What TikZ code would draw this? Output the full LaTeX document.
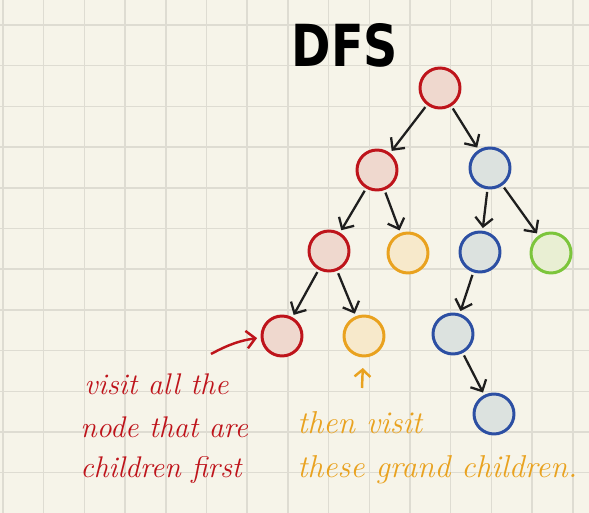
\documentclass[tikz,border=0pt]{standalone}
\usepackage{fontspec}
\usetikzlibrary{arrows.meta}
\newfontfamily\titlefont{DejaVu Sans}
\definecolor{paper}{HTML}{F6F4E9}
\definecolor{gridc}{HTML}{DEDCD2}
\definecolor{inkc}{HTML}{1E1E1E}
\definecolor{redline}{HTML}{BE141B}
\definecolor{redfill}{HTML}{EFD8CE}
\definecolor{orangeline}{HTML}{E9A21F}
\definecolor{orangefill}{HTML}{F7E9CB}
\definecolor{blueline}{HTML}{2C4FA3}
\definecolor{bluefill}{HTML}{DCE2DF}
\definecolor{greenline}{HTML}{7CC53B}
\definecolor{greenfill}{HTML}{E9EFD3}

\begin{document}
\begin{tikzpicture}[x=0.02cm, y=-0.02cm,
  vertex/.style={circle, minimum size=0.8cm, line width=1.7pt, inner sep=0pt},
  redvertex/.style={vertex, draw=redline, fill=redfill},
  orangevertex/.style={vertex, draw=orangeline, fill=orangefill},
  bluevertex/.style={vertex, draw=blueline, fill=bluefill},
  greenvertex/.style={vertex, draw=greenline, fill=greenfill},
  edge/.style={draw=inkc, -{Straight Barb[length=5pt,width=10pt]}, line width=1.3pt, shorten <=1.5pt, shorten >=1.5pt},
  note/.style={anchor=base west, inner sep=0pt, font=\fontsize{18}{24}\selectfont\itshape},
  rednote/.style={note, text=redline, font=\fontsize{17}{24}\selectfont\itshape},
  orangenote/.style={note, text=orangeline}]
% paper
\fill[paper] (0,0) rectangle (589,513);
\useasboundingbox (0,0) rectangle (589,513);
\foreach \i in {0,...,14}
  \draw[gridc, line width=0.8pt] ({3+40.7*\i},0) -- ({3+40.7*\i},513);
\foreach \i in {0,...,11}
  \draw[gridc, line width=0.8pt] (0,{25+40.7*\i}) -- (589,{25+40.7*\i});
% title
\node (title) at (345,45) {\scalebox{0.82}[1]{\titlefont\fontsize{33}{36}\selectfont\bfseries DFS}};
% tree
\node[redvertex] (root) at (440,88) {};
\node[redvertex] (l) at (377,170) {};
\node[bluevertex] (r) at (490,168) {};
\node[redvertex] (ll) at (329,251) {};
\node[orangevertex] (lr) at (408,253) {};
\node[bluevertex] (rl) at (480,252) {};
\node[greenvertex] (rr) at (551,253) {};
\node[redvertex] (lll) at (282,336) {};
\node[orangevertex] (llr) at (364,336) {};
\node[bluevertex] (rll) at (453,334) {};
\node[bluevertex] (rllr) at (494,414) {};
\draw[edge] (root) -- (l);
\draw[edge] (root) -- (r);
\draw[edge] (l) -- (ll);
\draw[edge] (l) -- (lr);
\draw[edge] (r) -- (rl);
\draw[edge] (r) -- (rr);
\draw[edge] (ll) -- (lll);
\draw[edge] (ll) -- (llr);
\draw[edge] (rl) -- (rll);
\draw[edge] (rll) -- (rllr);
% notes
\coordinate (redtail) at (211,354);
\draw[redline, line width=1.4pt, -{Straight Barb[length=5pt,width=10pt]}, shorten >=2pt]
  (redtail) to[bend left=10] (lll);
\coordinate (orangetail) at (362,388);
\draw[orangeline, line width=1.4pt, -{Straight Barb[length=4pt,width=9pt]}, shorten >=6pt]
  (orangetail) -- (llr);
\node[rednote] (red1) at (84,395) {visit all the};
\node[rednote] (red2) at (80,438) {node that are};
\node[rednote] (red3) at (80,478) {children first};
\node[orangenote] (orange1) at (297,434) {then visit};
\node[orangenote] (orange2) at (297,478) {these grand children.};
\end{tikzpicture}
\end{document}
